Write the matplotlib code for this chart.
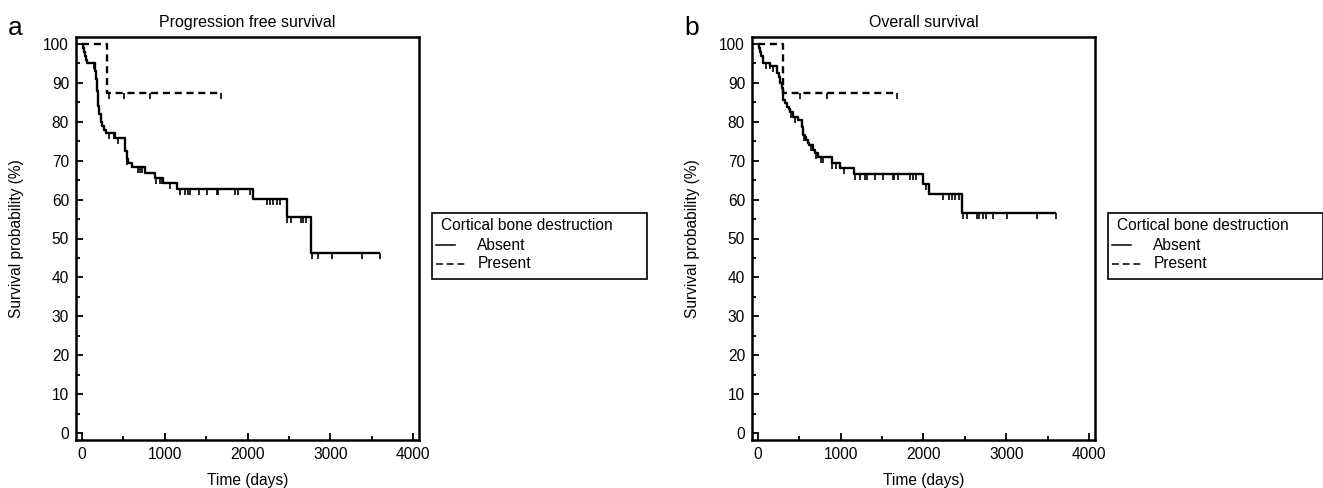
import numpy as np
import matplotlib
matplotlib.use("Agg")
import matplotlib.pyplot as plt
from matplotlib.lines import Line2D
from matplotlib.patches import Rectangle
from matplotlib.ticker import MultipleLocator

plt.rcParams['font.family'] = ['Liberation Sans', 'DejaVu Sans']

# ---------------- data ----------------
# Progression free survival, Absent: event times (days) and survival (%) after each step
pfs_abs_t = [0, 10, 20, 35, 45, 57, 160, 170, 180, 190, 197, 210, 225, 237, 270, 295,
             400, 521, 540, 560, 600, 761, 882, 983, 1144, 2070, 2473, 2763]
pfs_abs_s = [100, 99, 98, 97, 96, 95, 93, 91, 88, 86, 84, 82, 80, 78.8, 78, 77,
             75.8, 72.5, 70.5, 69.3, 68.3, 66.9, 65.6, 64.2, 62.7, 60.2, 55.4, 46.2]
pfs_abs_end = 3600
pfs_abs_cens = [150, 320, 390, 430, 540, 680, 700, 720, 900, 943, 963, 1063, 1184, 1245,
                1285, 1305, 1414, 1507, 1628, 1648, 1849, 1889, 2030, 2232, 2272, 2312,
                2353, 2393, 2481, 2526, 2643, 2675, 2707, 2783, 2848, 3017, 3388, 3600]

pfs_pre_t = [0, 306]
pfs_pre_s = [100, 87.5]
pfs_pre_end = 1680
pfs_pre_cens = [330, 512, 822, 1680]

# Overall survival, Absent
os_abs_t = [0, 10, 25, 40, 57, 150, 230, 250, 270, 286, 296, 306, 325, 346, 370, 387,
            427, 487, 528, 548, 565, 580, 600, 620, 661, 689, 730, 890, 991, 1160,
            1990, 2070, 2469]
os_abs_s = [100, 99, 98, 97, 95, 94.3, 92.5, 91.5, 90, 88.6, 87, 85.6, 84.8, 83.9, 83.2,
            82.6, 81.3, 80.5, 78.7, 76.6, 76, 75.3, 74.6, 74, 72.8, 72, 71.0, 69.5, 68.0,
            66.6, 64.0, 61.4, 56.6]
os_abs_end = 3598
os_abs_cens = [100, 140, 180, 260, 400, 450, 560, 640, 700, 760, 790, 900, 940, 1040,
               1172, 1233, 1293, 1321, 1414, 1507, 1628, 1644, 1696, 1837, 1877, 1906,
               2030, 2232, 2312, 2341, 2381, 2434, 2481, 2530, 2643, 2671, 2723, 2755,
               2843, 3005, 3375, 3598]

os_pre_t = [0, 306]
os_pre_s = [100, 87.5]
os_pre_end = 1676
os_pre_cens = [508, 838, 1676]

titles = ["Progression free survival", "Overall survival"]
panel_letters = ["a", "b"]
legend_title = "Cortical bone destruction"
group_labels = ["Absent", "Present"]
x_ticks = [0, 1000, 2000, 3000, 4000]
y_ticks = list(range(0, 101, 10))

# ---------------- drawing ----------------
W, H = 1323, 488
FS = 11.2
fig = plt.figure(figsize=(W / 100, H / 100), dpi=100)


def km(ax, t, s, end, cens, ls):
    t = np.asarray(t, float)
    s = np.asarray(s, float)
    tt = np.append(t, end)
    ss = np.append(s, s[-1])
    ax.step(tt, ss, where='post', color='black', lw=1.7, ls=ls,
            dashes=(3, 2) if ls == '--' else (None, None), solid_capstyle='butt')
    c = np.asarray(cens, float)
    idx = np.searchsorted(t, c, side='right') - 1
    ax.plot(c, s[idx], ls='none', marker=3, ms=4.5, mew=1.2, color='black')


panels = [
    (76, (pfs_abs_t, pfs_abs_s, pfs_abs_end, pfs_abs_cens),
     (pfs_pre_t, pfs_pre_s, pfs_pre_end, pfs_pre_cens), 432),
    (752, (os_abs_t, os_abs_s, os_abs_end, os_abs_cens),
     (os_pre_t, os_pre_s, os_pre_end, os_pre_cens), 1108),
]

for i, (left_px, absd, pred, leg_x) in enumerate(panels):
    ax = fig.add_axes([left_px / W, 1 - 440 / H, 343 / W, 403 / H])
    km(ax, *absd, ls='-')
    km(ax, *pred, ls='--')
    ax.set_xlim(-73, 4073)
    ax.set_ylim(-1.8, 101.8)
    ax.set_xticks(x_ticks)
    ax.set_yticks(y_ticks)
    ax.xaxis.set_minor_locator(MultipleLocator(500))
    ax.yaxis.set_minor_locator(MultipleLocator(5))
    ax.tick_params(which='both', direction='in', width=1.3, labelsize=FS, pad=5)
    ax.tick_params(which='major', length=5)
    ax.tick_params(which='minor', length=3)
    for sp in ax.spines.values():
        sp.set_linewidth(1.8)
    ax.set_title(titles[i], fontsize=11.5, pad=7)
    ax.set_xlabel("Time (days)", fontsize=FS, labelpad=8)
    ax.set_ylabel("Survival probability (%)", fontsize=FS, labelpad=14)

    # panel letter
    fig.text((8 if i == 0 else 684) / W, 1 - 28 / H, panel_letters[i],
             fontsize=19, ha='left', va='center')

    # legend box
    lx0, ly0, lw_, lh_ = leg_x, 213, 215, 66
    fig.patches.append(Rectangle((lx0 / W, 1 - (ly0 + lh_) / H), lw_ / W, lh_ / H,
                                 transform=fig.transFigure, fill=False,
                                 edgecolor='black', lw=1.2))
    fig.text((lx0 + 9) / W, 1 - 226 / H, legend_title, fontsize=FS,
             ha='left', va='center')
    fig.add_artist(Line2D([(lx0 + 4) / W, (lx0 + 23) / W], [1 - 245 / H, 1 - 245 / H],
                          transform=fig.transFigure, color='black', lw=1.1))
    fig.text((lx0 + 45) / W, 1 - 245 / H, group_labels[0], fontsize=FS,
             ha='left', va='center')
    fig.add_artist(Line2D([(lx0 + 4) / W, (lx0 + 34) / W], [1 - 264 / H, 1 - 264 / H],
                          transform=fig.transFigure, color='black', lw=1.1,
                          dashes=(4.5, 2.5)))
    fig.text((lx0 + 46) / W, 1 - 264 / H, group_labels[1], fontsize=FS,
             ha='left', va='center')

fig.savefig("out.png", dpi=100)
